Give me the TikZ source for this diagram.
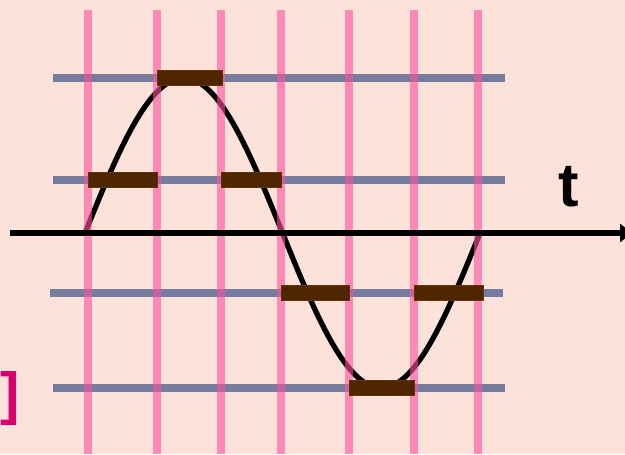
\documentclass[tikz,border=0pt]{standalone}
\usepackage{fontspec}
\setsansfont{Liberation Sans}
\usetikzlibrary{arrows.meta}
\definecolor{bgpink}{RGB}{252,226,216}
\definecolor{gridpink}{RGB}{255,80,160}
\definecolor{levelgrey}{RGB}{118,124,158}
\definecolor{barbrown}{RGB}{77,38,0}
\definecolor{brackmag}{RGB}{214,0,110}

\begin{document}
\begin{tikzpicture}[x=0.02cm,y=-0.02cm,
  level/.style={levelgrey,line width=4pt},
  sample/.style={gridpink,line width=4pt,opacity=0.6},
  qbar/.style={fill=barbrown,draw=barbrown!85!orange,line width=0.4pt}]
\useasboundingbox (0,0) rectangle (625,454);
\fill[bgpink] (0,0) rectangle (625,454);
\foreach \y/\a/\b in {78/53/505,180/53/505,293/50/503,388/53/505}
  \draw[level] (\a,\y) -- (\b,\y);
\draw[line width=3pt] plot[domain=85:480,samples=120,smooth]
  (\x,{233-155*sin((\x-85)/395*360)});
\foreach \x in {88,157,221,281,349,414,478}
  \draw[sample] (\x,10) -- (\x,454);
\draw[line width=2.9pt,-{Triangle[length=0.24cm,width=0.36cm]}] (10,233) -- (632,233);
\foreach \a/\b/\y in {157/222/78,88/157/180,221/281/180,281/349/293,414/483/293,349/414/388}
  \filldraw[qbar] (\a,\y-7.5) rectangle (\b,\y+7.5);
\node[font=\sffamily\bfseries\fontsize{35}{40}\selectfont] (tlabel) at (569,187) {t};
\node[brackmag,font=\sffamily\bfseries\fontsize{33}{36}\selectfont] (bracket) at (10,398) {]};
\end{tikzpicture}
\end{document}
